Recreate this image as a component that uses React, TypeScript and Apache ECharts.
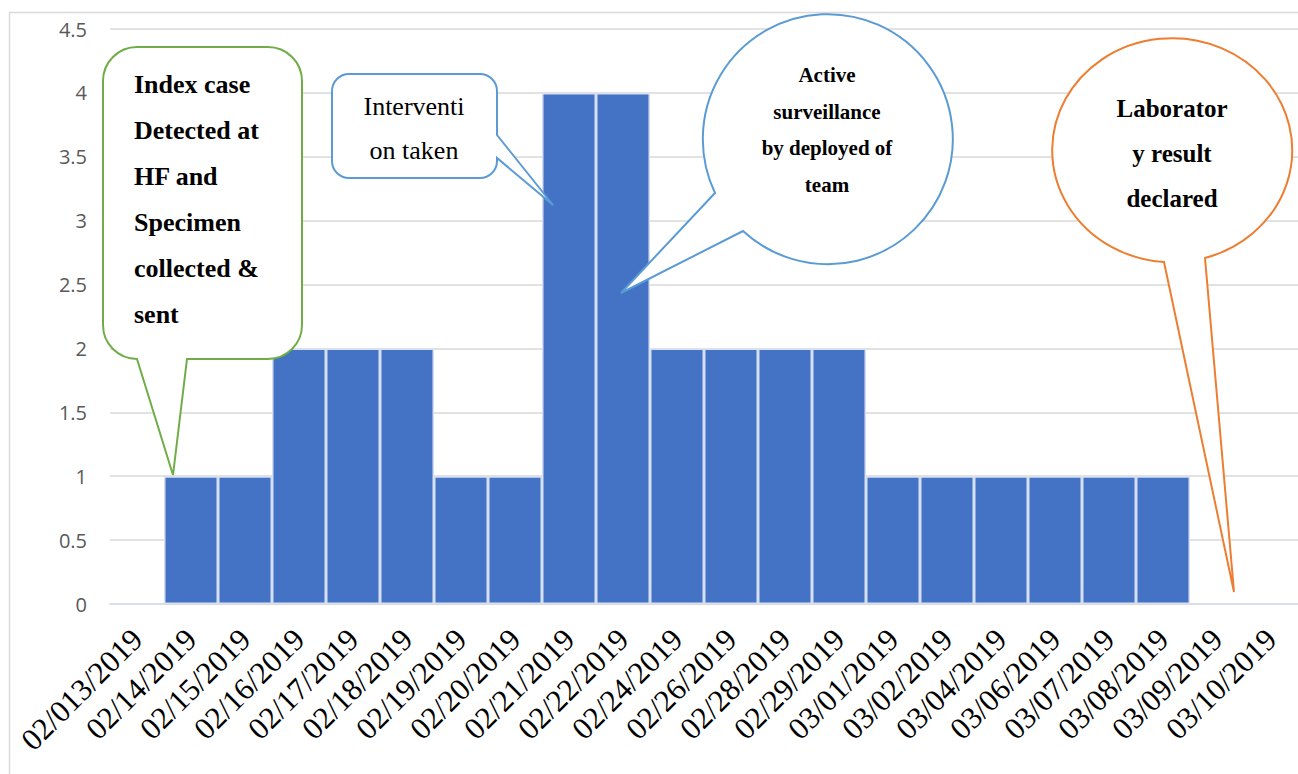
import React, { useEffect, useRef } from "react";
import * as echarts from "echarts";

// Daily case counts by reporting date
const dates = [
  "02/013/2019", "02/14/2019", "02/15/2019", "02/16/2019", "02/17/2019",
  "02/18/2019", "02/19/2019", "02/20/2019", "02/21/2019", "02/22/2019",
  "02/24/2019", "02/26/2019", "02/28/2019", "02/29/2019", "03/01/2019",
  "03/02/2019", "03/04/2019", "03/06/2019", "03/07/2019", "03/08/2019",
  "03/09/2019", "03/10/2019",
];
const cases = [0, 1, 1, 2, 2, 2, 1, 1, 4, 4, 2, 2, 2, 2, 1, 1, 1, 1, 1, 1, 0, 0];

const yMax = 4.5;
const yStep = 0.5;

// Callout annotation texts
const indexCaseNote = "Index case\nDetected at\nHF and\nSpecimen\ncollected &\nsent";
const interventionNote = "Interventi\non taken";
const surveillanceNote = "Active\nsurveillance\nby deployed of\nteam";
const labNote = "Laborator\ny result\ndeclared";

// Callout outlines (bubble + pointer), in pixels
const calloutIndexPath =
  "M138 47 H268 A34 34 0 0 1 302 81 V325 A34 34 0 0 1 268 359 H187 L173 475 L137 359 A34 34 0 0 1 103 325 V81 A34 34 0 0 1 137 47 Z";
const calloutInterventionPath =
  "M349 74 H480 A17 17 0 0 1 497 91 V135 L553 205 L497 158 V161 A17 17 0 0 1 480 178 H349 A17 17 0 0 1 332 161 V91 A17 17 0 0 1 349 74 Z";
const calloutSurveillancePath =
  "M715 193 L621 293 L743 231 A125 125 0 1 0 715 193 Z";
const calloutLabPath =
  "M1164 262 L1234 592 L1205 258 A120 112 0 1 0 1164 262 Z";

let shapesRegistered = false;
function registerCallouts() {
  if (shapesRegistered) return;
  echarts.graphic.registerShape("calloutIndex", echarts.graphic.extendPath(calloutIndexPath, {}));
  echarts.graphic.registerShape("calloutIntervention", echarts.graphic.extendPath(calloutInterventionPath, {}));
  echarts.graphic.registerShape("calloutSurveillance", echarts.graphic.extendPath(calloutSurveillancePath, {}));
  echarts.graphic.registerShape("calloutLab", echarts.graphic.extendPath(calloutLabPath, {}));
  shapesRegistered = true;
}

const serif = "Liberation Serif, serif";
const sans = "Open Sans, sans-serif";

export default function App() {
  const ref = useRef<HTMLDivElement>(null);

  useEffect(() => {
    if (!ref.current) return;
    registerCallouts();
    const chart = echarts.init(ref.current, undefined, { renderer: "svg" });

    chart.setOption({
      animation: false,
      backgroundColor: "#ffffff",
      grid: { left: 110, right: 0, top: 29, bottom: 170, containLabel: false },
      xAxis: {
        type: "category",
        data: dates,
        axisLine: { show: true, lineStyle: { color: "#d9d9d9", width: 1.5 } },
        axisTick: { show: false },
        axisLabel: {
          interval: 0,
          rotate: 45,
          margin: 30,
          color: "#000000",
          fontFamily: serif,
          fontSize: 31,
        },
      },
      yAxis: {
        type: "value",
        min: 0,
        max: yMax,
        interval: yStep,
        axisLine: { show: false },
        axisTick: { show: false },
        splitLine: { lineStyle: { color: "#d9d9d9", width: 1.5 } },
        axisLabel: {
          margin: 23,
          color: "#595959",
          fontFamily: sans,
          fontSize: 20,
        },
      },
      series: [
        {
          type: "bar",
          data: cases,
          barCategoryGap: 0,
          itemStyle: { color: "#4472c4", borderColor: "#d6e0f2", borderWidth: 1.5 },
        },
      ],
      graphic: [
        {
          type: "rect",
          silent: true,
          shape: { x: 9.5, y: 12.5, width: 1400, height: 900 },
          style: { fill: "none", stroke: "#d9d9d9", lineWidth: 1.5 },
          z: 0,
        },
        {
          type: "calloutIndex",
          z: 10,
          style: { fill: "#ffffff", stroke: "#70ad47", lineWidth: 2 },
        },
        {
          type: "text",
          z: 11,
          x: 134,
          y: 199,
          style: {
            text: indexCaseNote,
            fontFamily: serif,
            fontWeight: "bold",
            fontSize: 26,
            fill: "#000000",
            textAlign: "left",
            textVerticalAlign: "middle",
            lineHeight: 46,
          },
        },
        {
          type: "calloutIntervention",
          z: 10,
          style: { fill: "#ffffff", stroke: "#5b9bd5", lineWidth: 2 },
        },
        {
          type: "text",
          z: 11,
          x: 414,
          y: 128,
          style: {
            text: interventionNote,
            fontFamily: serif,
            fontSize: 26,
            fill: "#000000",
            textAlign: "center",
            textVerticalAlign: "middle",
            lineHeight: 44,
          },
        },
        {
          type: "calloutSurveillance",
          z: 10,
          style: { fill: "#ffffff", stroke: "#5b9bd5", lineWidth: 2 },
        },
        {
          type: "text",
          z: 11,
          x: 827,
          y: 130,
          style: {
            text: surveillanceNote,
            fontFamily: serif,
            fontWeight: "bold",
            fontSize: 21,
            fill: "#000000",
            textAlign: "center",
            textVerticalAlign: "middle",
            lineHeight: 36.7,
          },
        },
        {
          type: "calloutLab",
          z: 10,
          style: { fill: "#ffffff", stroke: "#ed7d31", lineWidth: 2 },
        },
        {
          type: "text",
          z: 11,
          x: 1172,
          y: 153,
          style: {
            text: labNote,
            fontFamily: serif,
            fontWeight: "bold",
            fontSize: 25,
            fill: "#000000",
            textAlign: "center",
            textVerticalAlign: "middle",
            lineHeight: 45,
          },
        },
      ],
    });

    return () => chart.dispose();
  }, []);

  return (
    <div
      ref={ref}
      style={{ position: "absolute", left: 0, top: 0, width: 1298, height: 774 }}
    />
  );
}
